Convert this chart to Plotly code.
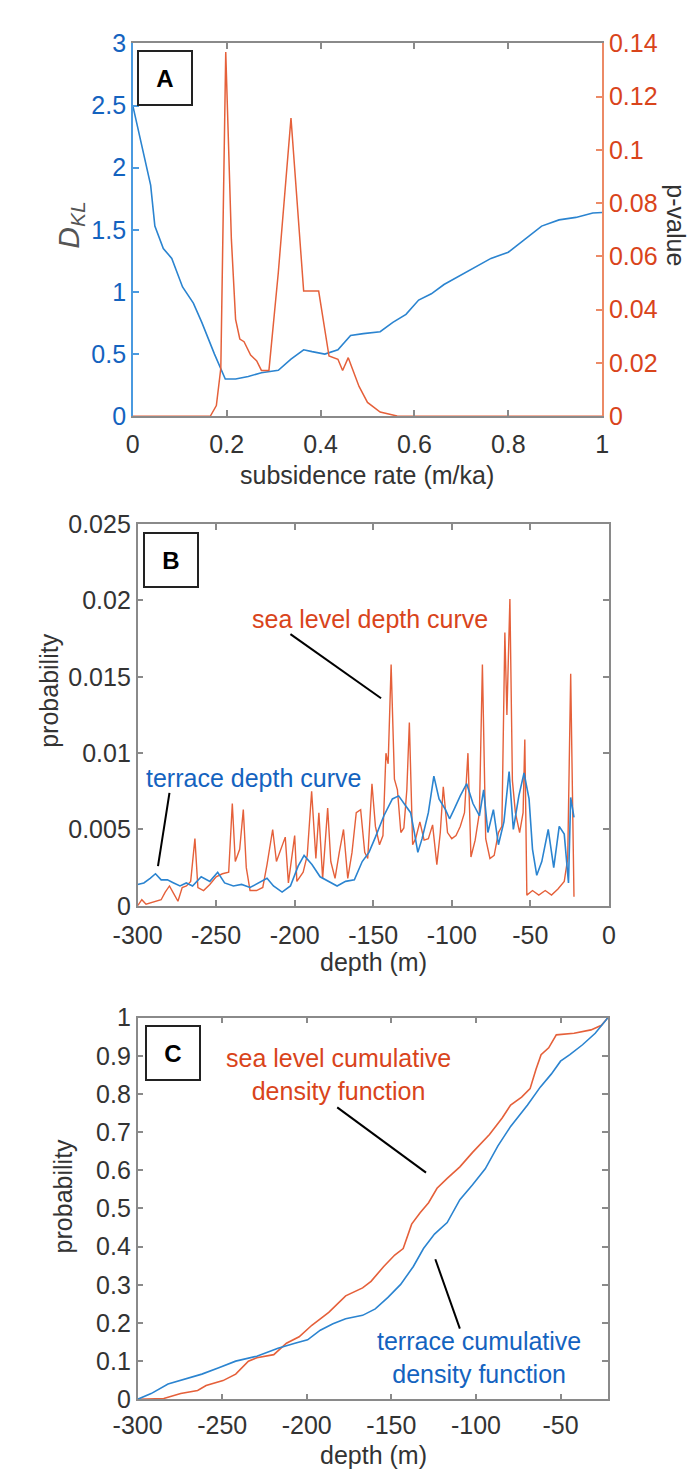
import plotly.graph_objects as go

# ---------------- Panel A data ----------------
A_rate = [0, 0.038, 0.047, 0.065, 0.083, 0.106, 0.129, 0.147, 0.174, 0.197, 0.219, 0.246, 0.274,
          0.31, 0.337, 0.364, 0.382, 0.409, 0.437, 0.464, 0.491, 0.527, 0.554, 0.582, 0.609,
          0.636, 0.663, 0.70, 0.726, 0.763, 0.80, 0.835, 0.871, 0.908, 0.944, 0.98, 1.0]
A_dkl = [2.5, 1.86, 1.53, 1.35, 1.27, 1.04, 0.91, 0.755, 0.50, 0.30, 0.30, 0.32, 0.35,
         0.37, 0.46, 0.535, 0.52, 0.50, 0.535, 0.65, 0.665, 0.68, 0.755, 0.82, 0.935,
         0.985, 1.06, 1.14, 1.19, 1.27, 1.32, 1.42, 1.53, 1.58, 1.60, 1.635, 1.64]

A_prate = [0, 0.165, 0.178, 0.1875, 0.198, 0.21, 0.219, 0.228, 0.237, 0.251, 0.264, 0.274, 0.29,
           0.31, 0.337, 0.364, 0.396, 0.418, 0.437, 0.447, 0.459, 0.482, 0.50, 0.527, 0.563,
           0.58, 1.0]
A_pval = [0, 0, 0.004, 0.018, 0.1368, 0.0665, 0.0364, 0.029, 0.028, 0.023, 0.0208, 0.0172, 0.0172,
          0.054, 0.112, 0.047, 0.047, 0.0226, 0.0214, 0.0172, 0.022, 0.0112, 0.0052, 0.0016, 0.0001,
          0, 0]

# ---------------- Panel B data ----------------
B_sea_depth = [-300, -297.3, -294.6, -289, -285, -282.4, -279.7, -277, -274.3, -271.6, -268.9, -266.2,
               -263.5, -261.6, -258, -254, -250, -246, -242, -239.7, -237.8, -235, -232.7, -230.8,
               -228.4, -224.3, -220.3, -217.6, -214, -211.6, -209.5, -206, -204, -200, -198.6,
               -194.6, -192, -189.2, -186.5, -184.6, -182.2, -179, -177, -174.3, -171.6, -168.9,
               -166.2, -163.5, -160.8, -158, -155.4, -153.5, -150.8, -148.6, -146, -143.8, -141.9,
               -140.5, -138.6, -136.5, -134.6, -132.4, -130.5, -128.6, -127, -124.9, -123, -120.3,
               -117.6, -114.9, -112.2, -109.5, -107.3, -105.4, -102.7, -100, -97.3, -94.6, -91.9,
               -89.7, -87.8, -85.1, -82.4, -80.5, -78.4, -75.7, -73, -70.3, -68.1, -66.2, -64.9,
               -63, -61.4, -59.5, -56.8, -54.6, -53.5, -52.2, -48.6, -44.6, -40.5, -36.5, -32.4,
               -28.4, -26.2, -24.3, -22.2]
B_sea_prob = [0, 0.0004, 0.0001, 0.0003, 0.0004, 0.0009, 0.0013, 0.0008, 0.0003, 0.0012, 0.0013, 0.0016,
              0.0044, 0.0012, 0.001, 0.0014, 0.0019, 0.0021, 0.0022, 0.0067, 0.0029, 0.0037, 0.0063, 0.0025,
              0.001, 0.001, 0.0012, 0.0027, 0.005, 0.0029, 0.0035, 0.0045, 0.0015, 0.0046, 0.0016,
              0.0022, 0.0033, 0.0075, 0.0031, 0.0061, 0.0018, 0.0064, 0.0029, 0.0018, 0.0035, 0.005,
              0.0018, 0.0035, 0.0061, 0.0063, 0.0035, 0.0031, 0.008, 0.0052, 0.004, 0.0046, 0.01,
              0.0093, 0.0158, 0.0083, 0.0076, 0.0048, 0.0051, 0.0076, 0.012, 0.004, 0.0044, 0.0055,
              0.0043, 0.0044, 0.0053, 0.0027, 0.0048, 0.0078, 0.0048, 0.0044, 0.0046, 0.0052, 0.0061,
              0.01, 0.0032, 0.0043, 0.0061, 0.0158, 0.0044, 0.0031, 0.0033, 0.0048, 0.0052, 0.0179, 0.0125,
              0.0201, 0.0082, 0.0061, 0.0048, 0.0061, 0.0109, 0.0007, 0.001, 0.0007, 0.001, 0.0007, 0.0011,
              0.0016, 0.0031, 0.0152, 0.0006]

B_ter_depth = [-300, -296, -292, -288.6, -285, -281, -277, -273, -269, -265, -259.5, -254, -249,
               -244.6, -239, -233.8, -228.4, -223, -217.6, -213.5, -208, -202.7, -197.8, -194, -189,
               -183.8, -178.4, -173, -167.6, -162, -157, -152.7, -148.6, -143.2, -137.8, -133.8,
               -129.7, -126.2, -123.8, -121.6, -118.9, -114.9, -111.4, -108.1, -104, -101.4, -98.6,
               -94.6, -90.5, -86.5, -82.4, -79.7, -77, -73.5, -70.3, -66.8, -63.5, -60.8, -57.3, -54,
               -50.8, -48.6, -45.9, -42.7, -38.6, -35.1, -31.6, -28.4, -25.7, -24.3, -22.2]
B_ter_prob = [0.0014, 0.0015, 0.0018, 0.0021, 0.0017, 0.0017, 0.0015, 0.0013, 0.0015, 0.0013, 0.0019,
              0.0016, 0.0022, 0.0015, 0.0013, 0.0014, 0.0012, 0.0015, 0.0018, 0.0013, 0.0009, 0.0013,
              0.0026, 0.0033, 0.0027, 0.0019, 0.0016, 0.0013, 0.0016, 0.0017, 0.0029, 0.0035, 0.0045,
              0.0059, 0.007, 0.0072, 0.0066, 0.0061, 0.0048, 0.0035, 0.0044, 0.0061, 0.0085, 0.007,
              0.0063, 0.0057, 0.0063, 0.0072, 0.008, 0.0067, 0.0059, 0.0076, 0.0048, 0.0063, 0.004,
              0.0055, 0.0088, 0.005, 0.0072, 0.0087, 0.007, 0.0037, 0.002, 0.0029, 0.005, 0.0025,
              0.0052, 0.0047, 0.0015, 0.0071, 0.0058]

# ---------------- Panel C data ----------------
C_sea_depth = [-300, -284.5, -274.5, -264.5, -259.5, -249.5, -242, -234.5, -229.5, -219.5, -212,
               -204.5, -197, -187, -177, -167, -162, -154.5, -148, -143, -138, -133, -128, -123,
               -117, -109.5, -102, -92, -84.5, -79.5, -73, -68, -64.5, -61.5, -57, -52.5, -42, -32,
               -25.8, -22]
C_sea_cdf = [0, 0.002, 0.015, 0.023, 0.036, 0.049, 0.066, 0.1, 0.109, 0.117, 0.147, 0.164, 0.194,
             0.228, 0.271, 0.292, 0.309, 0.348, 0.378, 0.395, 0.459, 0.489, 0.515, 0.553, 0.579,
             0.609, 0.647, 0.694, 0.737, 0.771, 0.792, 0.814, 0.865, 0.903, 0.921, 0.955, 0.959,
             0.968, 0.98, 1.0]
C_ter_depth = [-300, -292, -282, -272, -262, -252, -242, -229.5, -217, -207, -199.5, -192, -184.5,
               -177, -167, -159.5, -152, -144.5, -137, -131, -124.5, -117, -109.5, -102, -94.5, -87,
               -79.5, -69.5, -62, -55.5, -50, -44.5, -37, -29.5, -22]
C_ter_cdf = [0, 0.015, 0.04, 0.053, 0.066, 0.083, 0.1, 0.113, 0.134, 0.147, 0.156, 0.181, 0.198,
             0.211, 0.22, 0.237, 0.267, 0.301, 0.348, 0.395, 0.433, 0.463, 0.523, 0.562, 0.604, 0.664,
             0.715, 0.771, 0.818, 0.852, 0.886, 0.903, 0.929, 0.959, 1.0]

# tick labels
A_xticks = [0, 0.2, 0.4, 0.6, 0.8, 1]
A_xticktext = ["0", "0.2", "0.4", "0.6", "0.8", "1"]
A_yticks = [0, 0.5, 1, 1.5, 2, 2.5, 3]
A_yticktext = ["0", "0.5", "1", "1.5", "2", "2.5", "3"]
A_y2ticks = [0, 0.02, 0.04, 0.06, 0.08, 0.1, 0.12, 0.14]
A_y2ticktext = ["0", "0.02", "0.04", "0.06", "0.08", "0.1", "0.12", "0.14"]
B_xticks = [-300, -250, -200, -150, -100, -50, 0]
B_xticktext = ["-300", "-250", "-200", "-150", "-100", "-50", "0"]
B_yticks = [0, 0.005, 0.01, 0.015, 0.02, 0.025]
B_yticktext = ["0", "0.005", "0.01", "0.015", "0.02", "0.025"]
C_xticks = [-300, -250, -200, -150, -100, -50]
C_xticktext = ["-300", "-250", "-200", "-150", "-100", "-50"]
C_yticks = [0, 0.1, 0.2, 0.3, 0.4, 0.5, 0.6, 0.7, 0.8, 0.9, 1]
C_yticktext = ["0", "0.1", "0.2", "0.3", "0.4", "0.5", "0.6", "0.7", "0.8", "0.9", "1"]

W, H = 696, 1481
FONT = "Liberation Sans, Arial, Helvetica, sans-serif"
BLUE_L = "#2b84d0"
RED_L = "#e5603a"
BLUE_T = "#1463bf"
RED_T = "#d9441b"
GRAY = "#8a8a8a"
TXT = "#333333"
FS = 25

def px_x(p):
    return p / W

def px_y(p):
    return 1 - p / H

fig = go.Figure()
fig.add_trace(go.Scatter(x=A_rate, y=A_dkl, mode="lines", line=dict(color=BLUE_L, width=1.6),
                         xaxis="x", yaxis="y", showlegend=False))
fig.add_trace(go.Scatter(x=A_prate, y=A_pval, mode="lines", line=dict(color=RED_L, width=1.5),
                         xaxis="x", yaxis="y2", showlegend=False))
fig.add_trace(go.Scatter(x=B_sea_depth, y=B_sea_prob, mode="lines", line=dict(color=RED_L, width=1.4),
                         xaxis="x3", yaxis="y3", showlegend=False))
fig.add_trace(go.Scatter(x=B_ter_depth, y=B_ter_prob, mode="lines", line=dict(color=BLUE_L, width=1.6),
                         xaxis="x3", yaxis="y3", showlegend=False))
fig.add_trace(go.Scatter(x=C_sea_depth, y=C_sea_cdf, mode="lines", line=dict(color=RED_L, width=1.6),
                         xaxis="x4", yaxis="y4", showlegend=False))
fig.add_trace(go.Scatter(x=C_ter_depth, y=C_ter_cdf, mode="lines", line=dict(color=BLUE_L, width=1.6),
                         xaxis="x4", yaxis="y4", showlegend=False))

def axis_common(**kw):
    d = dict(showgrid=False, zeroline=False, showline=True, linecolor=GRAY, linewidth=1.5,
             ticks="inside", ticklen=6, tickwidth=1.5, tickcolor=GRAY,
             tickfont=dict(family=FONT, size=FS, color=TXT), mirror="ticks")
    d.update(kw)
    return d

A_dom_x = [px_x(113), px_x(605)]
A_dom_y = [px_y(410), px_y(30)]
B_dom_x = [px_x(118), px_x(612)]
B_dom_y = [px_y(909), px_y(520)]
C_dom_x = [px_x(118), px_x(611)]
C_dom_y = [px_y(1412), px_y(1023)]

fig.update_layout(
    width=W, height=H, autosize=False,
    margin=dict(l=0, r=0, t=0, b=0),
    paper_bgcolor="white", plot_bgcolor="white",
    font=dict(family=FONT, color=TXT),
    xaxis=axis_common(domain=A_dom_x, anchor="y", range=[0, 1], tickvals=A_xticks, ticktext=A_xticktext,
                      ticklabelstandoff=5),
    yaxis=axis_common(domain=A_dom_y, anchor="x", range=[0, 3], tickvals=A_yticks, ticktext=A_yticktext,
                      linecolor="#4a9ae0", tickcolor="#4a9ae0", mirror=False,
                      tickfont=dict(family=FONT, size=FS, color=BLUE_T)),
    yaxis2=axis_common(overlaying="y", side="right", anchor="x", range=[0, 0.14],
                       tickvals=A_y2ticks, ticktext=A_y2ticktext, mirror=False,
                       linecolor="#ec8a66", tickcolor="#ec8a66",
                       tickfont=dict(family=FONT, size=FS, color=RED_T)),
    xaxis3=axis_common(domain=B_dom_x, anchor="y3", range=[-300, 0], tickvals=B_xticks, ticktext=B_xticktext,
                       ticklabelstandoff=6),
    yaxis3=axis_common(domain=B_dom_y, anchor="x3", range=[0, 0.025], tickvals=B_yticks, ticktext=B_yticktext),
    xaxis4=axis_common(domain=C_dom_x, anchor="y4", range=[-300, -22], tickvals=C_xticks, ticktext=C_xticktext,
                       ticklabelstandoff=3),
    yaxis4=axis_common(domain=C_dom_y, anchor="x4", range=[0, 1], tickvals=C_yticks, ticktext=C_yticktext),
)

ann = []
# panel letters in boxes
for letter, xr, yr, cx, cy in [("A", "x domain", "y domain", 0.069, 0.907),
                               ("B", "x3 domain", "y3 domain", 0.071, 0.906),
                               ("C", "x4 domain", "y4 domain", 0.076, 0.907)]:
    ann.append(dict(text="<b>%s</b>" % letter, xref=xr, yref=yr, x=cx, y=cy, showarrow=False,
                    font=dict(family=FONT, size=24, color="black"), bordercolor="#222",
                    borderwidth=2, borderpad=0, width=52, height=52, bgcolor="white",
                    xanchor="center", yanchor="middle"))

# axis titles
ann.append(dict(text="subsidence rate (m/ka)", xref="paper", yref="paper", x=px_x(359), y=px_y(470),
                showarrow=False, font=dict(family=FONT, size=FS, color=TXT), xanchor="center", yanchor="middle"))
ann.append(dict(text="<i>D</i><sub><i>KL</i></sub>", xref="paper", yref="paper", x=px_x(48), y=px_y(215),
                showarrow=False, textangle=-90, font=dict(family=FONT, size=30, color="#555555"),
                xanchor="center", yanchor="middle"))
ann.append(dict(text="p-value", xref="paper", yref="paper", x=px_x(682), y=px_y(215),
                showarrow=False, textangle=90, font=dict(family=FONT, size=FS, color=TXT),
                xanchor="center", yanchor="middle"))
ann.append(dict(text="depth (m)", xref="paper", yref="paper", x=px_x(365), y=px_y(966),
                showarrow=False, font=dict(family=FONT, size=FS, color=TXT), xanchor="center", yanchor="middle"))
ann.append(dict(text="probability", xref="paper", yref="paper", x=px_x(25), y=px_y(690),
                showarrow=False, textangle=-90, font=dict(family=FONT, size=FS, color=TXT),
                xanchor="center", yanchor="middle"))
ann.append(dict(text="depth (m)", xref="paper", yref="paper", x=px_x(365), y=px_y(1469),
                showarrow=False, font=dict(family=FONT, size=FS, color=TXT), xanchor="center", yanchor="middle"))
ann.append(dict(text="probability", xref="paper", yref="paper", x=px_x(40), y=px_y(1205),
                showarrow=False, textangle=-90, font=dict(family=FONT, size=FS, color=TXT),
                xanchor="center", yanchor="middle"))

# curve labels
ann.append(dict(text="sea level depth curve", xref="x3", yref="y3", x=-152, y=0.0188, showarrow=False,
                font=dict(family=FONT, size=FS, color=RED_T), xanchor="center", yanchor="middle"))
ann.append(dict(text="terrace depth curve", xref="x3", yref="y3", x=-226, y=0.0084, showarrow=False,
                font=dict(family=FONT, size=FS, color=BLUE_T), xanchor="center", yanchor="middle"))
ann.append(dict(text="sea level cumulative<br>density function", xref="x4", yref="y4", x=-181, y=0.85,
                showarrow=False, font=dict(family=FONT, size=FS, color=RED_T), xanchor="center",
                yanchor="middle"))
ann.append(dict(text="terrace cumulative<br>density function", xref="x4", yref="y4", x=-98, y=0.11,
                showarrow=False, font=dict(family=FONT, size=FS, color=BLUE_T), xanchor="center",
                yanchor="middle"))
fig.update_layout(annotations=ann)

shapes = [
    dict(type="line", xref="x3", yref="y3", x0=-202.7, y0=0.0178, x1=-145, y1=0.0136,
         line=dict(color="black", width=2)),
    dict(type="line", xref="x3", yref="y3", x0=-279.7, y0=0.0074, x1=-287, y1=0.0026,
         line=dict(color="black", width=2)),
    dict(type="line", xref="x4", yref="y4", x0=-182, y0=0.765, x1=-129.5, y1=0.594,
         line=dict(color="black", width=2)),
    dict(type="line", xref="x4", yref="y4", x0=-124, y0=0.367, x1=-109.5, y1=0.185,
         line=dict(color="black", width=2)),
]
fig.update_layout(shapes=shapes)

fig.write_html("out.html")
